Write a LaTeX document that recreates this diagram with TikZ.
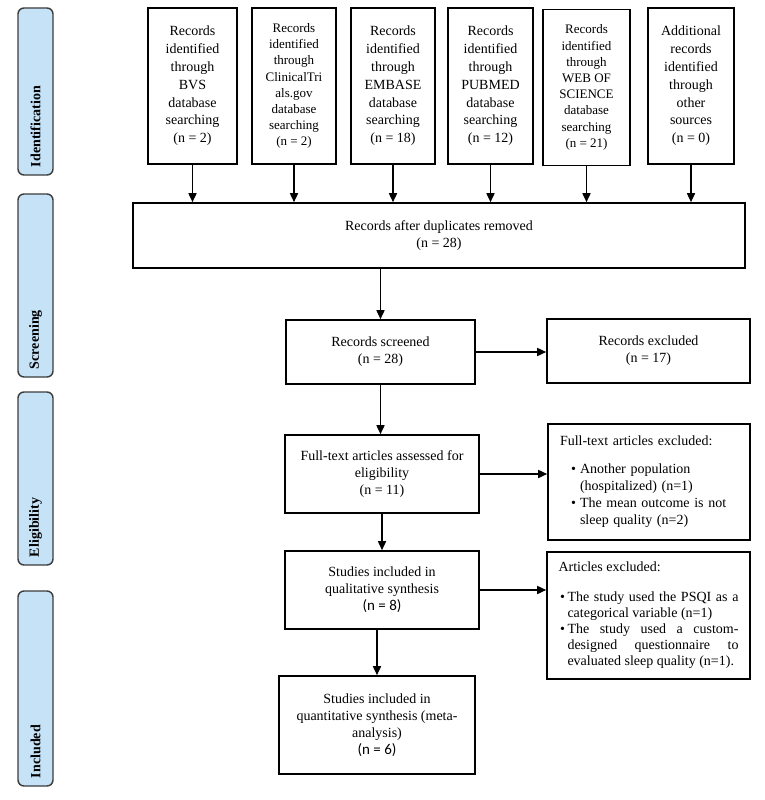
\documentclass[tikz,border=0pt]{standalone}
\usepackage{fontspec}
\setmainfont{Liberation Serif}
\newfontfamily\calib{Carlito}
\usepackage{enumitem}
\definecolor{tabblue}{RGB}{197,226,247}
\definecolor{tabline}{RGB}{60,60,60}
\usetikzlibrary{arrows.meta}
\newcommand{\nsans}[1]{{\calib\fontsize{15}{18}\selectfont #1}}

\begin{document}
\begin{tikzpicture}[x=1pt, y=1pt, node distance=100pt,
  box/.style={draw, line width=1.6pt, align=center, inner sep=4pt, font=\fontsize{14}{17}\selectfont},
  src/.style={box, minimum height=156pt, font=\fontsize{14}{17.8}\selectfont},
  srcsmall/.style={src, font=\fontsize{13}{16.2}\selectfont},
  phase/.style={draw=tabline, fill=tabblue, line width=1.4pt, rounded corners=6pt, rotate=90, minimum height=35pt, inner xsep=8pt, align=left, font=\fontsize{14}{16}\selectfont\bfseries},
  arr/.style={-{Triangle[length=9pt,width=8pt]}, line width=1.6pt}]
  \useasboundingbox (0,0) rectangle (765,-800);

  % phases
  \node[phase, minimum width=167pt, text width=151pt] (ident)  at (35.5,-91.5)  {Identification};
  \node[phase, minimum width=183pt, text width=167pt] (screen) at (35.5,-285.5) {Screening};
  \node[phase, minimum width=173pt, text width=157pt] (elig)   at (35.5,-478.5) {Eligibility};
  \node[phase, minimum width=195pt, text width=179pt] (incl)   at (35.5,-688.5) {Included};

  % sources
  \node[src, minimum width=89pt] (bvs) at (192.5,-86)
    {Records\\identified\\through\\BVS\\database\\searching\\(n = 2)};
  \node[srcsmall, minimum width=84pt] (ctg) [right of=bvs, node distance=101.5pt]
    {Records\\identified\\through\\ClinicalTri\\als.gov\\database\\searching\\(n = 2)};
  \node[src, minimum width=84pt] (emb) [right of=ctg, node distance=99pt]
    {Records\\identified\\through\\EMBASE\\database\\searching\\(n = 18)};
  \node[src, minimum width=85pt] (pub) [right of=emb, node distance=97.5pt]
    {Records\\identified\\through\\PUBMED\\database\\searching\\(n = 12)};
  \node[srcsmall, minimum width=87pt] (wos) [right of=pub, node distance=96pt, yshift=-1.5pt]
    {Records\\identified\\through\\WEB OF\\SCIENCE\\database\\searching\\(n = 21)};
  \node[src, minimum width=86pt] (other) [right of=pub, node distance=200.5pt]
    {Additional\\records\\identified\\through\\other\\sources\\(n = 0)};

  % main flow
  \node[box, minimum width=612pt, minimum height=65pt] (dup) at (439,-235.5)
    {Records after duplicates removed\\(n = 28)};
  \node[box, minimum width=189pt, minimum height=64pt] (scr) [below of=dup, node distance=116.5pt, xshift=-58.5pt]
    {Records screened\\(n = 28)};
  \node[box, minimum width=203pt, minimum height=64pt] (rexc) [right of=scr, node distance=268pt, yshift=1pt]
    {Records excluded\\(n = 17)};
  \node[box, minimum width=194pt, minimum height=78pt] (ft) [below of=scr, node distance=122pt, xshift=1.5pt]
    {Full-text articles assessed for\\eligibility\\(n = 11)};
  \node[box, minimum width=202pt, minimum height=116pt, text width=178pt, align=left] (ftexc) [right of=ft, node distance=267pt, yshift=-8pt]
    {Full-text articles excluded:\par\vspace{11pt}
     \begin{itemize}[nosep, leftmargin=20pt, labelsep=4pt]
       \item Another population\\(hospitalized) (n=1)
       \item The mean outcome is not\\sleep quality (n=2)
     \end{itemize}};
  \node[box, minimum width=194pt, minimum height=78pt] (qual) [below of=ft, node distance=116pt]
    {Studies included in\\qualitative synthesis\\\nsans{(n = 8)}};
  \node[box, minimum width=203pt, minimum height=127pt, text width=180pt, align=justify, font=\fontsize{14}{16.2}\selectfont] (artexc) [right of=qual, node distance=266.5pt, yshift=-25.5pt]
    {Articles excluded:\par\vspace{13pt}
     \begin{itemize}[nosep, leftmargin=9pt, labelsep=2.5pt]
       \item The study used the PSQI as a categorical variable (n=1)
       \item The study used a custom-designed questionnaire to evaluated sleep quality (n=1).
     \end{itemize}};
  \node[box, minimum width=196pt, minimum height=98pt] (quant) [below of=qual, node distance=135pt, xshift=-5pt]
    {Studies included in\\quantitative synthesis (meta-\\analysis)\\\nsans{(n = 6)}};

  % connectors
  \path (bvs.south)   edge[arr] (bvs.south |- dup.north)
        (ctg.south)   edge[arr] (ctg.south |- dup.north)
        (emb.south)   edge[arr] (emb.south |- dup.north)
        (pub.south)   edge[arr] (pub.south |- dup.north)
        (wos.south)   edge[arr] (wos.south |- dup.north)
        (other.south) edge[arr] (other.south |- dup.north)
        (dup.south -| scr.north) edge[arr] (scr.north)
        (scr.south) edge[arr] (scr.south |- ft.north)
        (scr.east)  edge[arr] (scr.east -| rexc.west)
        (ft.south)  edge[arr] (qual.north)
        (ft.east)   edge[arr] (ft.east -| ftexc.west)
        (qual.east) edge[arr] (qual.east -| artexc.west)
        (qual.south -| quant.north) edge[arr] (quant.north)
        ;
\end{tikzpicture}
\end{document}
